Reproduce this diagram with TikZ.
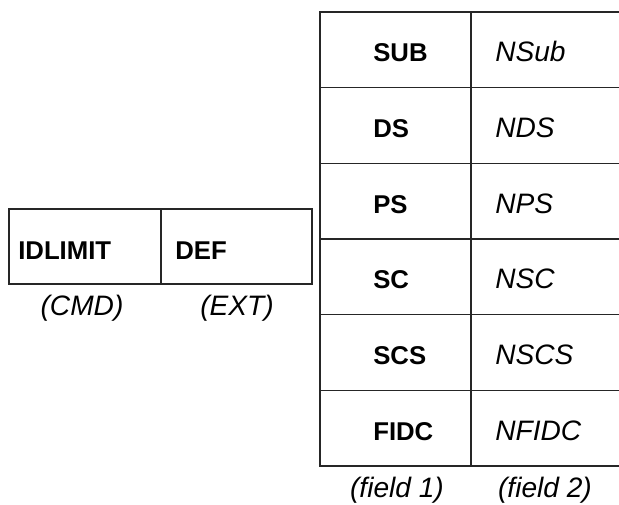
\documentclass[tikz,border=0pt]{standalone}
\usepackage{fontspec}
\setmainfont{Liberation Sans}
\usetikzlibrary{positioning}

\begin{document}
\begin{tikzpicture}[
    grid/.style={draw=black!85, line width=0.75pt},
    keytext/.style={font=\fontsize{18.3}{20}\selectfont\bfseries, inner sep=0pt, anchor=base west},
    valtext/.style={font=\fontsize{20}{22}\selectfont\itshape, inner sep=0pt, anchor=base west},
    note/.style={font=\fontsize{20}{22}\selectfont\itshape, inner sep=0pt}
]
\useasboundingbox (0,0) rectangle (15.475,-12.625);

% Left: command record
\draw[grid] (0.225,-5.225) rectangle (7.8,-7.1);
\draw[grid] (4.025,-5.225) -- (4.025,-7.1);
\node[keytext] (idlimit) at (0.45,-6.5)  {IDLIMIT};
\node[keytext] (def)     at (4.375,-6.5) {DEF};
\node[note] (cmd) at (2.05,-7.7)  {(CMD)};
\node[note] (ext) at (5.925,-7.7) {(EXT)};

% Right: field table
\draw[grid] (15.55,-0.3) -- (8.0,-0.3) -- (8.0,-11.65) -- (15.55,-11.65);
\draw[grid] (15.55,-0.3) -- (15.55,-11.65);
\draw[grid] (11.775,-0.3) -- (11.775,-11.65);
\draw[grid] (8.0,-2.192)  -- (15.55,-2.192);
\draw[grid] (8.0,-4.083)  -- (15.55,-4.083);
\draw[grid] (8.0,-5.975)  -- (15.55,-5.975);
\draw[grid] (8.0,-7.867)  -- (15.55,-7.867);
\draw[grid] (8.0,-9.758)  -- (15.55,-9.758);

\node[keytext] (sub)  at (9.325,-1.55)  {SUB};
\node[valtext] (nsub) at (12.375,-1.55) {NSub};
\node[keytext] (ds)   at (9.325,-3.44)  {DS};
\node[valtext] (nds)  at (12.375,-3.44) {NDS};
\node[keytext] (ps)   at (9.325,-5.33)  {PS};
\node[valtext] (nps)  at (12.375,-5.33) {NPS};
\node[keytext] (sc)   at (9.325,-7.22)  {SC};
\node[valtext] (nsc)  at (12.375,-7.22) {NSC};
\node[keytext] (scs)  at (9.325,-9.11)  {SCS};
\node[valtext] (nscs) at (12.375,-9.11) {NSCS};
\node[keytext] (fidc) at (9.325,-11.0)  {FIDC};
\node[valtext] (nfidc) at (12.375,-11.0) {NFIDC};

\node[note] (field1) at (9.925,-12.25)  {(field 1)};
\node[note] (field2) at (13.625,-12.25) {(field 2)};

\end{tikzpicture}
\end{document}
